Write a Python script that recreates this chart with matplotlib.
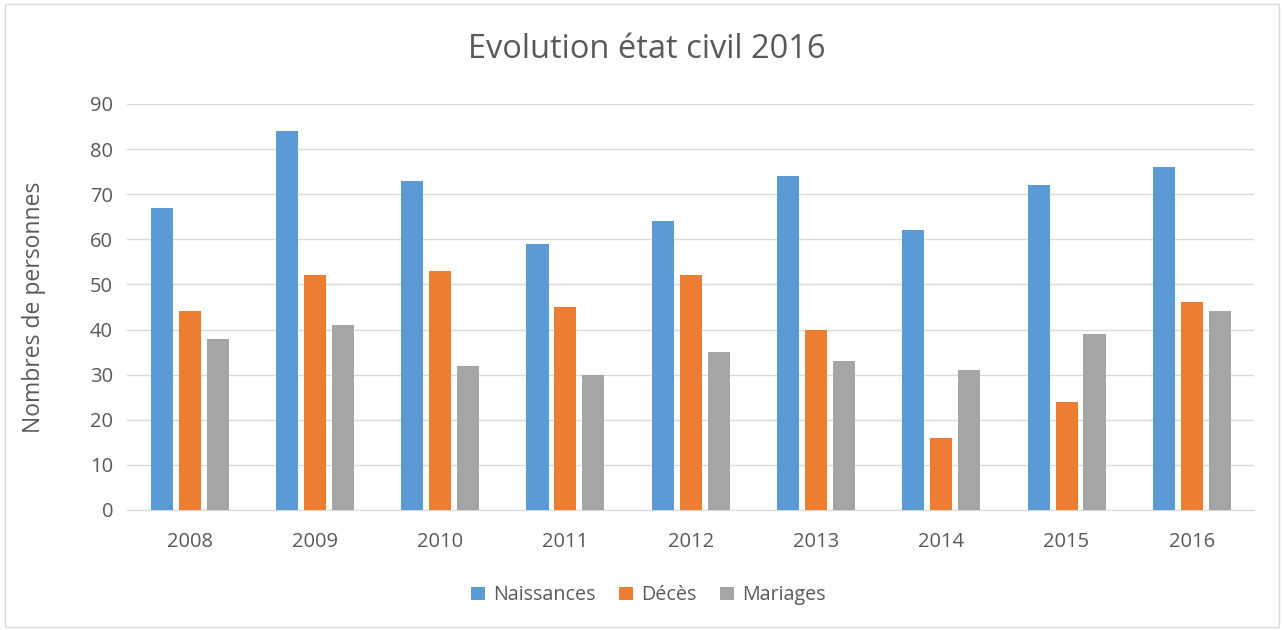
import matplotlib
matplotlib.use("Agg")
import matplotlib.pyplot as plt
import numpy as np
from matplotlib.patches import Rectangle

years = ["2008", "2009", "2010", "2011", "2012", "2013", "2014", "2015", "2016"]
naissances = [67, 84, 73, 59, 64, 74, 62, 72, 76]
deces = [44, 52, 53, 45, 52, 40, 16, 24, 46]
mariages = [38, 41, 32, 30, 35, 33, 31, 39, 44]
series_names = ["Naissances", "Décès", "Mariages"]
colors = ["#5B9BD5", "#ED7D31", "#A5A5A5"]

plt.rcParams['font.family'] = ['Open Sans', 'DejaVu Sans']
txt = "#595959"

fig = plt.figure(figsize=(12.84, 6.30), dpi=100)
fig.patches.append(Rectangle((0.004, 0.005), 0.992, 0.988, transform=fig.transFigure,
                             fill=False, edgecolor="#D9D9D9", linewidth=1))
ax = fig.add_axes([0.0989, 0.1905, 0.8781, 0.6445])

x = np.arange(len(years))
w = 0.176
step = 0.223
for i, (vals, name, c) in enumerate(zip([naissances, deces, mariages], series_names, colors)):
    ax.bar(x + (i - 1) * step, vals, width=w, color=c, label=name, zorder=3)

ax.set_xlim(-0.5, len(years) - 0.5)
ax.set_ylim(0, 90)
ax.set_yticks(range(0, 91, 10))
ax.set_xticks(x)
ax.set_xticklabels(years)
ax.grid(axis='y', color="#D9D9D9", linewidth=1, zorder=0)
for s in ["top", "right", "left"]:
    ax.spines[s].set_visible(False)
ax.spines["bottom"].set_color("#D9D9D9")
ax.tick_params(axis='both', length=0, colors=txt, labelsize=14.5)
ax.tick_params(axis='x', pad=16)
ax.tick_params(axis='y', pad=10)
ax.set_ylabel("Nombres de personnes", color=txt, fontsize=16.5, labelpad=32)
fig.text(0.504, 0.922, "Evolution état civil 2016", ha='center', va='center', color=txt, fontsize=23.5)

leg = fig.legend(loc='center', bbox_to_anchor=(0.505, 0.055), ncol=3, frameon=False,
                 handlelength=0.7, handleheight=0.7, handletextpad=0.4, columnspacing=1.2,
                 fontsize=14.2)
for t in leg.get_texts():
    t.set_color(txt)

fig.savefig("out.png", dpi=100)
